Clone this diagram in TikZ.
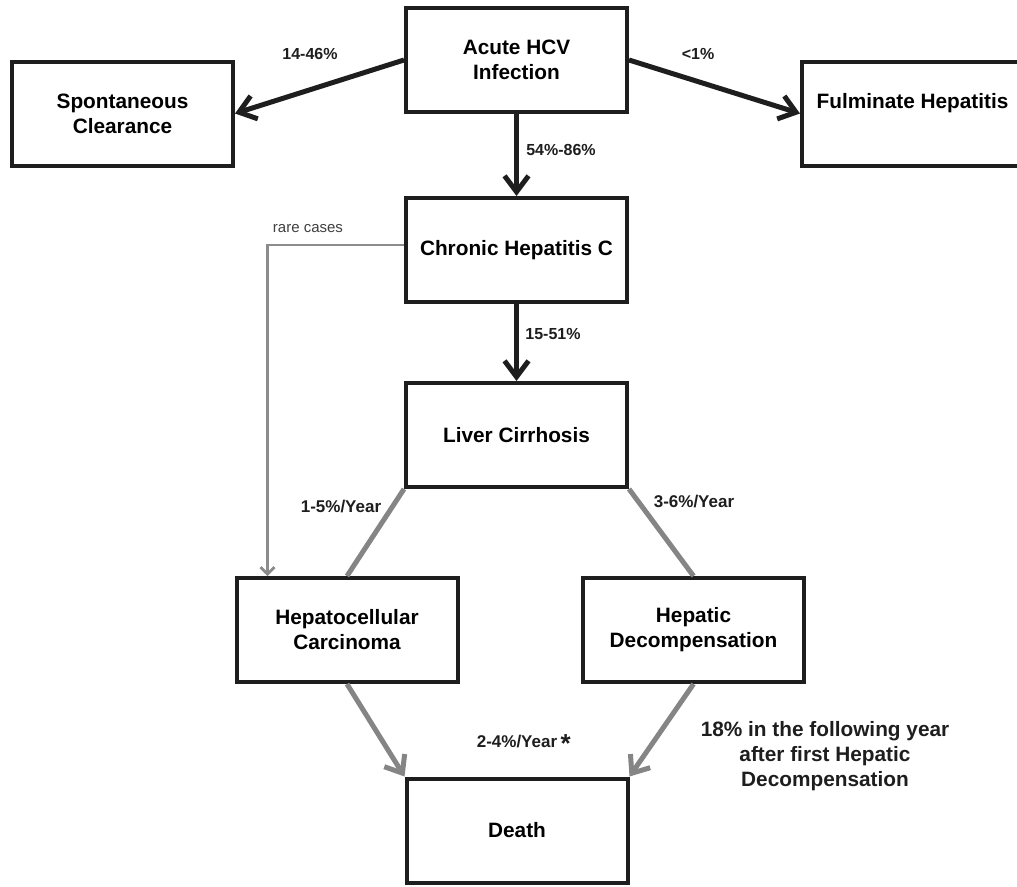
\documentclass[tikz,border=0pt]{standalone}
\usepackage{fontspec}
\setmainfont{Liberation Sans}
\usetikzlibrary{arrows.meta}
\definecolor{boxline}{HTML}{1E1E1E}
\definecolor{grayline}{HTML}{858585}
\definecolor{thingray}{HTML}{8C8C8C}
\begin{document}
\begin{tikzpicture}[x=1pt,y=-1pt,
  box/.style={draw=boxline, line width=4pt, fill=white, minimum width=221pt, minimum height=104pt,
    align=center, font=\fontsize{20.8}{25}\selectfont\bfseries, inner sep=0pt},
  blackarrow/.style={draw=boxline, line width=5pt, -{Straight Barb[length=16pt,width=24pt]}},
  grayconn/.style={draw=grayline, line width=5pt},
  grayarrow/.style={draw=grayline, line width=5pt, -{Straight Barb[length=15pt,width=24pt]}},
  thinarrow/.style={draw=thingray, line width=2.8pt, -{Straight Barb[length=7pt,width=14pt]}},
  lbl/.style={font=\fontsize{16}{19}\selectfont\bfseries, text=boxline, inner sep=0pt},
  ylbl/.style={font=\fontsize{17}{20}\selectfont\bfseries, text=boxline, inner sep=0pt},
  note/.style={font=\fontsize{20.8}{25}\selectfont\bfseries, text=boxline, align=center, inner sep=0pt}
]
\useasboundingbox (0,0) rectangle (1017,886);
\clip (0,0) rectangle (1017,886);
\fill[white] (0,0) rectangle (1017,886);

% boxes
\node[box] (acute) at (516.5,60) {Acute HCV\\Infection};
\node[box] (spont) at (122.5,113.5) {Spontaneous\\Clearance};
\node[box] (fulm) at (912.5,113.5) {Fulminate Hepatitis\\\mbox{}};
\node[box] (chronic) at (516.5,250) {Chronic Hepatitis C};
\node[box] (liver) at (516.5,435) {Liver Cirrhosis};
\node[box] (hcc) at (347,630) {Hepatocellular\\Carcinoma};
\node[box] (hd) at (693.5,630) {Hepatic\\Decompensation};
\node[box] (death) at (517,830.5) {Death};

% black arrows
\draw[blackarrow] (acute.west) -- (spont.east);
\draw[blackarrow] (acute.east) -- (fulm.west);
\draw[blackarrow] (acute.south) -- (chronic.north);
\draw[blackarrow] (chronic.south) -- (liver.north);

% gray connectors
\draw[grayconn] (liver.south west) -- (hcc.north);
\draw[grayconn] (liver.south east) -- (hd.north);
\draw[grayarrow] (hcc.south) -- (death.north west);
\draw[grayarrow] (hd.south) -- (death.north east);

% rare cases
\coordinate (rc) at (267.5,245);
\draw[thinarrow] (chronic.west |- rc) -- (rc) -- (rc |- hcc.north);
\node[font=\fontsize{15}{18}\selectfont, text=black!75, inner sep=0pt] (rclbl) at (308,229) {rare cases};

% labels
\node[lbl] (l1) at (310,54) {14-46\%};
\node[lbl] (l2) at (698,54) {<1\%};
\node[lbl] (l3) at (561,150) {54\%-86\%};
\node[lbl] (l4) at (553,334) {15-51\%};
\node[ylbl] (l5) at (341,507) {1-5\%/Year};
\node[ylbl] (l6) at (694,502) {3-6\%/Year};
\node[ylbl] (l7) at (517,742) {2-4\%/Year};
\node[font=\fontsize{26}{26}\selectfont\bfseries, text=boxline, inner sep=0pt, anchor=west] (star) at ([xshift=3pt,yshift=-2pt]l7.east) {*};
\node[note] (l8) at (825,756) {18\% in the following year\\after first Hepatic\\Decompensation};
\end{tikzpicture}
\end{document}
